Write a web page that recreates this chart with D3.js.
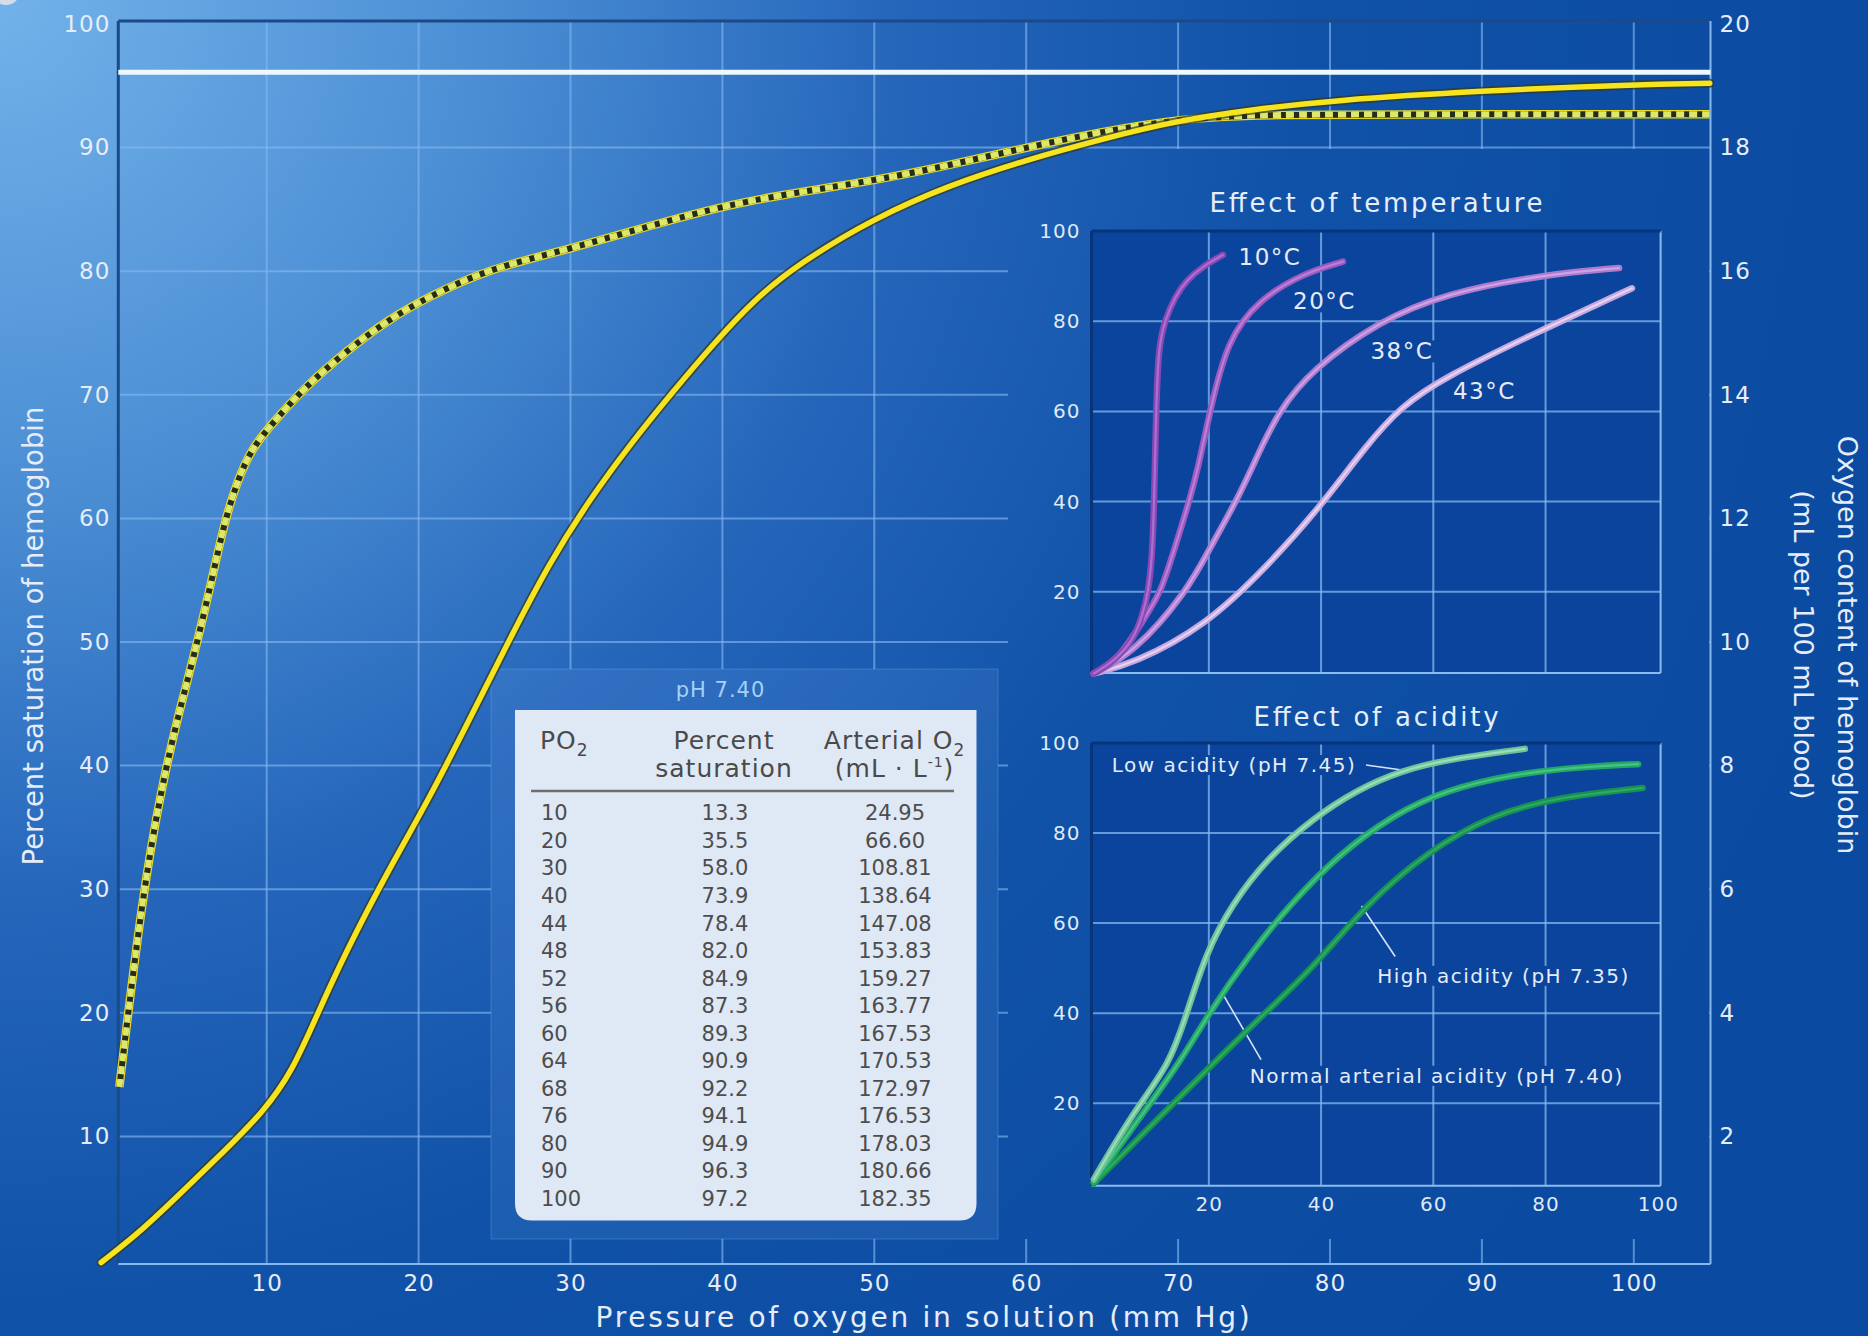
<!DOCTYPE html>
<html><head><meta charset="utf-8">
<script src="https://cdn.jsdelivr.net/npm/d3@7"></script>
<style>
html,body{margin:0;padding:0;background:#0b4ca3;overflow:hidden;}
svg{display:block;}
text{font-family:"DejaVu Sans",Verdana,sans-serif;}
</style>
</head><body>
<svg id="c" width="1868" height="1336"></svg>
<script>
// ---------- DATA ----------
const xTicks = [10,20,30,40,50,60,70,80,90,100];
const yTicksLeft = [10,20,30,40,50,60,70,80,90,100];
const yTicksRight = [2,4,6,8,10,12,14,16,18,20];
const insetTicks = [20,40,60,80,100];
const insetGrid = [20,40,60,80];
const fullSaturation = 96.1;

// main curves [PO2, % saturation]
const hemoglobinCurve = [[-0.9,-0.2],[1.8,2.4],[4.5,5.6],[7.2,8.8],[9.8,12.0],[11.7,15.3],[13.3,19.8],[15.2,24.9],[17.9,31.3],[20.6,37.1],[23.3,43.6],[25.9,50.0],[28.6,56.4],[31.3,61.6],[34,66.1],[36.7,70.2],[39.4,74.1],[42,77.6],[45,80.6],[50,84.3],[55,87.0],[60,89.0],[65,90.7],[70,92.2],[75,93.1],[80,93.8],[90,94.6],[100,95.1],[105,95.2]];
const myoglobinCurve = [[0.3,14],[1.8,29.4],[3.1,38.4],[4.2,44.2],[5.3,49.3],[6.4,55.1],[7.2,59.6],[8,62.8],[9,65.7],[10.6,68],[12.5,70.6],[15.2,73.5],[17.9,76],[20.6,77.9],[24.6,80.2],[30,81.8],[35.3,83.7],[41.2,85.7],[50,87.3],[55,88.6],[60,90],[65,91.3],[70,92.3],[75,92.7],[90,92.7],[105,92.7]];

// table
const tablePO2 = [10,20,30,40,44,48,52,56,60,64,68,76,80,90,100];
const tableSaturation = [13.3,35.5,58.0,73.9,78.4,82.0,84.9,87.3,89.3,90.9,92.2,94.1,94.9,96.3,97.2];
const tableArterialO2 = [24.95,66.60,108.81,138.64,147.08,153.83,159.27,163.77,167.53,170.53,172.97,176.53,178.03,180.66,182.35];

// temperature inset
const temp10 = [[-0.5,1.9],[3,4.5],[6.6,9.3],[8.2,15],[9.2,19.7],[9.9,28],[10.2,37.4],[10.6,59.6],[11.0,74.4],[12.2,80.3],[14,85.5],[16.1,89.2],[19,92.2],[22.5,94.7]];
const temp20 = [[-0.5,1.9],[4,5],[9.0,15.2],[11.4,19.7],[14,30],[16.5,40],[18.2,48],[20.1,59.6],[23.3,75.9],[28.8,84.7],[36.8,90.6],[43.9,93.2]];
const temp38 = [[-0.5,1.9],[6.6,6.4],[16.1,20],[20.3,30],[24.9,40],[28.6,50],[32.4,60],[38.3,69.2],[50.3,80],[62.2,86.2],[79.6,90.3],[93.1,91.8]];
const temp43 = [[-0.5,1.9],[6.6,4.1],[19.3,12.3],[30.4,25.6],[39.9,38.9],[47.9,52.2],[54.2,61.1],[62.2,67.7],[78,77.3],[95.4,87.3]];
const tempLabels = ["10°C","20°C","38°C","43°C"];
const tempLabelPos = [[30.9,94.2],[40.6,84.4],[54.4,73.3],[69.1,64.6]];

// acidity inset
const acidLow = [[-0.5,3.1],[6.6,18.2],[13,28.5],[16.2,40.4],[19.4,53.1],[24.1,64.2],[30.5,74.5],[38.5,83.2],[46.4,89.6],[54.4,93.9],[62.3,96.3],[76.3,98.7]];
const acidNormal = [[-0.5,2.5],[6.6,15],[14.6,28.5],[20.2,40.4],[27.3,53.1],[34.5,64.2],[43.2,75.3],[52.8,84],[62.3,89.6],[74.3,93.1],[86.2,94.7],[96.5,95.3]];
const acidHigh = [[-0.5,2.2],[9,14.2],[18.6,26.1],[28.9,38.8],[38.5,49.9],[48,64.2],[59.2,76.1],[70.3,84],[82.2,88],[97.3,90]];
const acidLabels = ["Low acidity (pH 7.45)","High acidity (pH 7.35)","Normal arterial acidity (pH 7.40)"];
const acidLabelPos = [[2.7,95.1],[50,48.3],[27.3,26.1]];
const acidLeaders = [[[48,95.1],[54.4,94.0]],[[53.2,52.6],[47.2,63.8]],[[29.3,29.7],[22.6,44.0]]];

// ---------- SCALES ----------
const x = d3.scaleLinear().domain([0,100]).range([114.8,1633.8]);
const y = d3.scaleLinear().domain([0,100]).range([1260,24]);
const yR = d3.scaleLinear().domain([0,20]).range([1260,24]);
const ix = d3.scaleLinear().domain([0,100]).range([1096.6,1657.8]);
const tY = d3.scaleLinear().domain([0,100]).range([682,231]);
const aY = d3.scaleLinear().domain([0,100]).range([1193.3,743]);

const X0 = x(0.23), X1 = x(105.05), Y0 = y(100.25), Y1 = y(-0.32);

const svg = d3.select("#c");
const defs = svg.append("defs");
const rg = defs.append("radialGradient").attr("id","bg").attr("gradientUnits","userSpaceOnUse")
  .attr("cx",0).attr("cy",0).attr("r",2000);
[[0,"#72b2ea"],[0.25,"#4a8dd3"],[0.45,"#2566bb"],[0.65,"#1052a8"],[1,"#0a4aa0"]]
  .forEach(([o,c])=>rg.append("stop").attr("offset",o).attr("stop-color",c));

svg.append("rect").attr("width",1868).attr("height",1336).attr("fill","url(#bg)");
svg.append("circle").attr("cx",6).attr("cy",-9).attr("r",14).attr("fill","#d6dde6");

// gridlines
const grid = svg.append("g").attr("stroke","#86b8f0").attr("stroke-opacity",0.62).attr("stroke-width",2);
grid.selectAll("line.v").data(xTicks).join("line").attr("class","v")
  .attr("x1",d=>x(d)).attr("x2",d=>x(d)).attr("y1",Y0).attr("y2",Y1);
grid.selectAll("line.h").data(yTicksLeft.filter(d=>d<100)).join("line").attr("class","h")
  .attr("x1",X0).attr("x2",X1).attr("y1",d=>y(d)).attr("y2",d=>y(d));

// panels covering the grid
svg.append("rect").attr("x",491).attr("y",669).attr("width",507).attr("height",570).attr("fill","url(#bg)");
svg.append("rect").attr("x",491).attr("y",669).attr("width",507).attr("height",570)
  .attr("fill","rgba(120,170,235,0.14)").attr("stroke","rgba(150,200,255,0.25)");
svg.append("rect").attr("x",1008).attr("y",149).attr("width",X1-1.5-1008).attr("height",1239-149).attr("fill","url(#bg)");

// frame
svg.append("line").attr("x1",X0).attr("x2",X1).attr("y1",Y0).attr("y2",Y0).attr("stroke","#1a4a88").attr("stroke-width",3);
svg.append("line").attr("x1",X0).attr("x2",X0).attr("y1",Y0).attr("y2",Y1).attr("stroke","#1a4a88").attr("stroke-width",3);
svg.append("line").attr("x1",X1).attr("x2",X1).attr("y1",Y0).attr("y2",Y1).attr("stroke","#86b8f0").attr("stroke-width",2);
svg.append("line").attr("x1",X0).attr("x2",X1).attr("y1",Y1).attr("y2",Y1).attr("stroke","#86b8f0").attr("stroke-width",2);

// 100% saturation line
svg.append("line").attr("x1",X0).attr("x2",X1).attr("y1",y(fullSaturation)).attr("y2",y(fullSaturation))
  .attr("stroke","#eef8ff").attr("stroke-width",5);

const mainLine = d3.line().x(d=>x(d[0])).y(d=>y(d[1])).curve(d3.curveBasis);
// dashed curve
svg.append("path").attr("d",mainLine(myoglobinCurve)).attr("fill","none").attr("stroke","#eadb22").attr("stroke-width",8.5);
svg.append("path").attr("d",mainLine(myoglobinCurve)).attr("fill","none").attr("stroke","#262c1c").attr("stroke-width",6);
svg.append("path").attr("d",mainLine(myoglobinCurve)).attr("fill","none").attr("stroke","#dde86a").attr("stroke-width",6).attr("stroke-dasharray","8 5");
// solid curve
svg.append("path").attr("d",mainLine(hemoglobinCurve)).attr("fill","none").attr("stroke","#34361c").attr("stroke-opacity",0.7).attr("stroke-width",9).attr("stroke-linecap","round");
svg.append("path").attr("d",mainLine(hemoglobinCurve)).attr("fill","none").attr("stroke","#f5e41e").attr("stroke-width",5.5).attr("stroke-linecap","round");

// ---------- TABLE ----------
const tg = svg.append("g");
tg.append("text").attr("x",720.5).attr("y",690).attr("dominant-baseline","central").attr("text-anchor","middle")
  .attr("font-size",21).attr("letter-spacing",1).attr("fill","#a6d0f6").text("pH 7.40");
{
  const x0=515,x1=976.5,y0=710,y1=1220.5,r=17;
  tg.append("path").attr("d",`M${x0},${y0}H${x1}V${y1-r}Q${x1},${y1} ${x1-r},${y1}H${x0+r}Q${x0},${y1} ${x0},${y1-r}Z`)
    .attr("fill","#dfe8f5");
}
const hdr = tg.append("g").attr("fill","#4a4a4a").attr("font-size",25).attr("letter-spacing",1);
{
  const t = hdr.append("text").attr("x",540).attr("y",749.3);
  t.append("tspan").text("PO");
  t.append("tspan").attr("dy",7).attr("font-size",17).text("2");
  hdr.append("text").attr("x",724).attr("y",749.3).attr("text-anchor","middle").text("Percent");
  hdr.append("text").attr("x",724).attr("y",776.7).attr("text-anchor","middle").text("saturation");
  const a = hdr.append("text").attr("x",894.6).attr("y",749.3).attr("text-anchor","middle");
  a.append("tspan").text("Arterial O");
  a.append("tspan").attr("dy",7).attr("font-size",17).text("2");
  const b = hdr.append("text").attr("x",894.6).attr("y",776.7).attr("text-anchor","middle");
  b.append("tspan").text("(mL · L");
  b.append("tspan").attr("dy",-10).attr("font-size",14).text("-1");
  b.append("tspan").attr("dy",10).text(")");
}
tg.append("line").attr("x1",531).attr("x2",954).attr("y1",791).attr("y2",791).attr("stroke","#6e6e6e").attr("stroke-width",2.5);
const rowY = i => 813.3 + i*27.55;
const rows = tg.append("g").attr("fill","#4d4d4d").attr("font-size",21).attr("dominant-baseline","central");
rows.selectAll("text.c1").data(tablePO2).join("text").attr("class","c1").attr("x",541).attr("y",(d,i)=>rowY(i)).text(d=>d);
rows.selectAll("text.c2").data(tableSaturation).join("text").attr("class","c2").attr("x",725).attr("y",(d,i)=>rowY(i)).attr("text-anchor","middle").text(d=>d.toFixed(1));
rows.selectAll("text.c3").data(tableArterialO2).join("text").attr("class","c3").attr("x",895).attr("y",(d,i)=>rowY(i)).attr("text-anchor","middle").text(d=>d.toFixed(2));

// ---------- INSETS ----------
function labelWithBg(g, str, px, py, anchor, size, spacing, bgFill){
  const t = g.append("text").attr("x",px).attr("y",py).attr("text-anchor",anchor).attr("dominant-baseline","central")
    .attr("font-size",size).attr("letter-spacing",spacing).attr("fill","#e4ecf8").text(str);
  const bb = t.node().getBBox();
  g.insert("rect", function(){return t.node();}).attr("x",bb.x-3).attr("y",bb.y+2).attr("width",bb.width+6).attr("height",bb.height-4).attr("fill",bgFill);
  return t;
}
function drawInset(yS, yBottomVal, title, titleY, titleLen){
  const g = svg.append("g");
  const L = ix(-0.9), R = ix(100.5), T = yS(100), B = yS(yBottomVal);
  const fill = "#0b449c";
  g.append("rect").attr("x",L).attr("y",T).attr("width",R-L).attr("height",B-T).attr("fill",fill);
  const gg = g.append("g").attr("stroke","#86b8f0").attr("stroke-opacity",0.75).attr("stroke-width",2);
  gg.selectAll("line.v").data(insetGrid).join("line").attr("class","v").attr("x1",d=>ix(d)).attr("x2",d=>ix(d)).attr("y1",T).attr("y2",B);
  gg.selectAll("line.h").data(insetGrid).join("line").attr("class","h").attr("x1",L).attr("x2",R).attr("y1",d=>yS(d)).attr("y2",d=>yS(d));
  g.append("line").attr("x1",R).attr("x2",R).attr("y1",T).attr("y2",B).attr("stroke","#8abcf2").attr("stroke-width",2);
  g.append("line").attr("x1",L).attr("x2",R).attr("y1",B).attr("y2",B).attr("stroke","#8abcf2").attr("stroke-width",2);
  g.append("line").attr("x1",L).attr("x2",R).attr("y1",T).attr("y2",T).attr("stroke","#07347a").attr("stroke-width",3);
  g.append("line").attr("x1",L).attr("x2",L).attr("y1",T).attr("y2",B).attr("stroke","#07347a").attr("stroke-width",3);
  const ax = g.append("g").attr("transform",`translate(${L},0)`)
    .call(d3.axisLeft(yS).tickValues(insetTicks).tickSize(0).tickPadding(11));
  ax.select(".domain").remove();
  ax.attr("font-family",null);
  ax.selectAll("text").attr("font-size",20).attr("letter-spacing",1).attr("fill","#dfe8f6");
  g.append("text").attr("x",(L+R)/2).attr("y",titleY).attr("text-anchor","middle").attr("dominant-baseline","central")
    .attr("font-size",26).attr("textLength",titleLen).attr("lengthAdjust","spacing").attr("fill","#e6eefa").text(title);
  return {g, fill, L, R, T, B};
}
function drawCurve(g, line, data, base, hl){
  g.append("path").attr("d",line(data)).attr("fill","none").attr("stroke",base).attr("stroke-width",6.5).attr("stroke-linecap","round");
  g.append("path").attr("d",line(data)).attr("fill","none").attr("stroke",hl).attr("stroke-width",2.2).attr("stroke-linecap","round").attr("stroke-opacity",0.8);
}

// temperature
const ti = drawInset(tY, 2, "Effect of temperature", 203.3, 333);
tempLabels.forEach((s,i)=>labelWithBg(ti.g, s, ix(tempLabelPos[i][0]), tY(tempLabelPos[i][1]), "middle", 23, 1.5, ti.fill));
const tLine = d3.line().x(d=>ix(d[0])).y(d=>tY(d[1])).curve(d3.curveBasis);
drawCurve(ti.g, tLine, temp43, "#c6a6e0", "#ecdff6");
drawCurve(ti.g, tLine, temp38, "#ae7acf", "#d3aee8");
drawCurve(ti.g, tLine, temp20, "#9b58c2", "#c08ad8");
drawCurve(ti.g, tLine, temp10, "#8a48b6", "#b37ad6");

// acidity
const ai = drawInset(aY, 1.7, "Effect of acidity", 716.8, 245);
const axb = ai.g.append("g").attr("transform",`translate(0,${ai.B})`)
  .call(d3.axisBottom(ix).tickValues(insetTicks).tickSize(0).tickPadding(11));
axb.select(".domain").remove();
axb.attr("font-family",null);
axb.selectAll("text").attr("font-size",20).attr("letter-spacing",1).attr("fill","#dfe8f6");
acidLabels.forEach((s,i)=>labelWithBg(ai.g, s, ix(acidLabelPos[i][0]), aY(acidLabelPos[i][1]), "start", 20, 1.5, ai.fill));
ai.g.append("g").selectAll("line").data(acidLeaders).join("line")
  .attr("x1",d=>ix(d[0][0])).attr("y1",d=>aY(d[0][1])).attr("x2",d=>ix(d[1][0])).attr("y2",d=>aY(d[1][1]))
  .attr("stroke","#d6e4f8").attr("stroke-width",1.6);
const aLine = d3.line().x(d=>ix(d[0])).y(d=>aY(d[1])).curve(d3.curveBasis);
drawCurve(ai.g, aLine, acidHigh, "#17914f", "#34b06c");
drawCurve(ai.g, aLine, acidNormal, "#22a865", "#50c88a");
drawCurve(ai.g, aLine, acidLow, "#6cc296", "#a9e2c2");

// ---------- MAIN AXES ----------
const axL = svg.append("g").attr("transform",`translate(${X0},0)`)
  .call(d3.axisLeft(y).tickValues(yTicksLeft).tickSize(0).tickPadding(8));
axL.select(".domain").remove();
axL.attr("font-family",null);
axL.selectAll("text").attr("font-size",23).attr("letter-spacing",1).attr("fill","#e6edf8");

const axR = svg.append("g").attr("transform",`translate(${X1},0)`)
  .call(d3.axisRight(yR).tickValues(yTicksRight).tickSize(0).tickPadding(9));
axR.select(".domain").remove();
axR.attr("font-family",null);
axR.selectAll("text").attr("font-size",23).attr("letter-spacing",1).attr("fill","#e6edf8");

const axB = svg.append("g").attr("transform",`translate(0,${Y1})`)
  .call(d3.axisBottom(x).tickValues(xTicks).tickSize(0).tickPadding(11));
axB.select(".domain").remove();
axB.attr("font-family",null);
axB.selectAll("text").attr("font-size",23).attr("letter-spacing",1).attr("fill","#e6edf8");

// titles
svg.append("text").attr("x",922.6).attr("y",1326.7).attr("text-anchor","middle").attr("font-size",28)
  .attr("textLength",654).attr("lengthAdjust","spacing").attr("fill","#e6edf8").text("Pressure of oxygen in solution (mm Hg)");
svg.append("text").attr("transform","translate(33,636) rotate(-90)").attr("text-anchor","middle").attr("dominant-baseline","central")
  .attr("font-size",27.5).attr("fill","#e6edf8").text("Percent saturation of hemoglobin");
svg.append("text").attr("transform","translate(1847.5,645) rotate(90)").attr("text-anchor","middle").attr("dominant-baseline","central")
  .attr("font-size",27).attr("fill","#e6edf8").text("Oxygen content of hemoglobin");
svg.append("text").attr("transform","translate(1803,645) rotate(90)").attr("text-anchor","middle").attr("dominant-baseline","central")
  .attr("font-size",27).attr("fill","#e6edf8").text("(mL per 100 mL blood)");
</script>
</body></html>
